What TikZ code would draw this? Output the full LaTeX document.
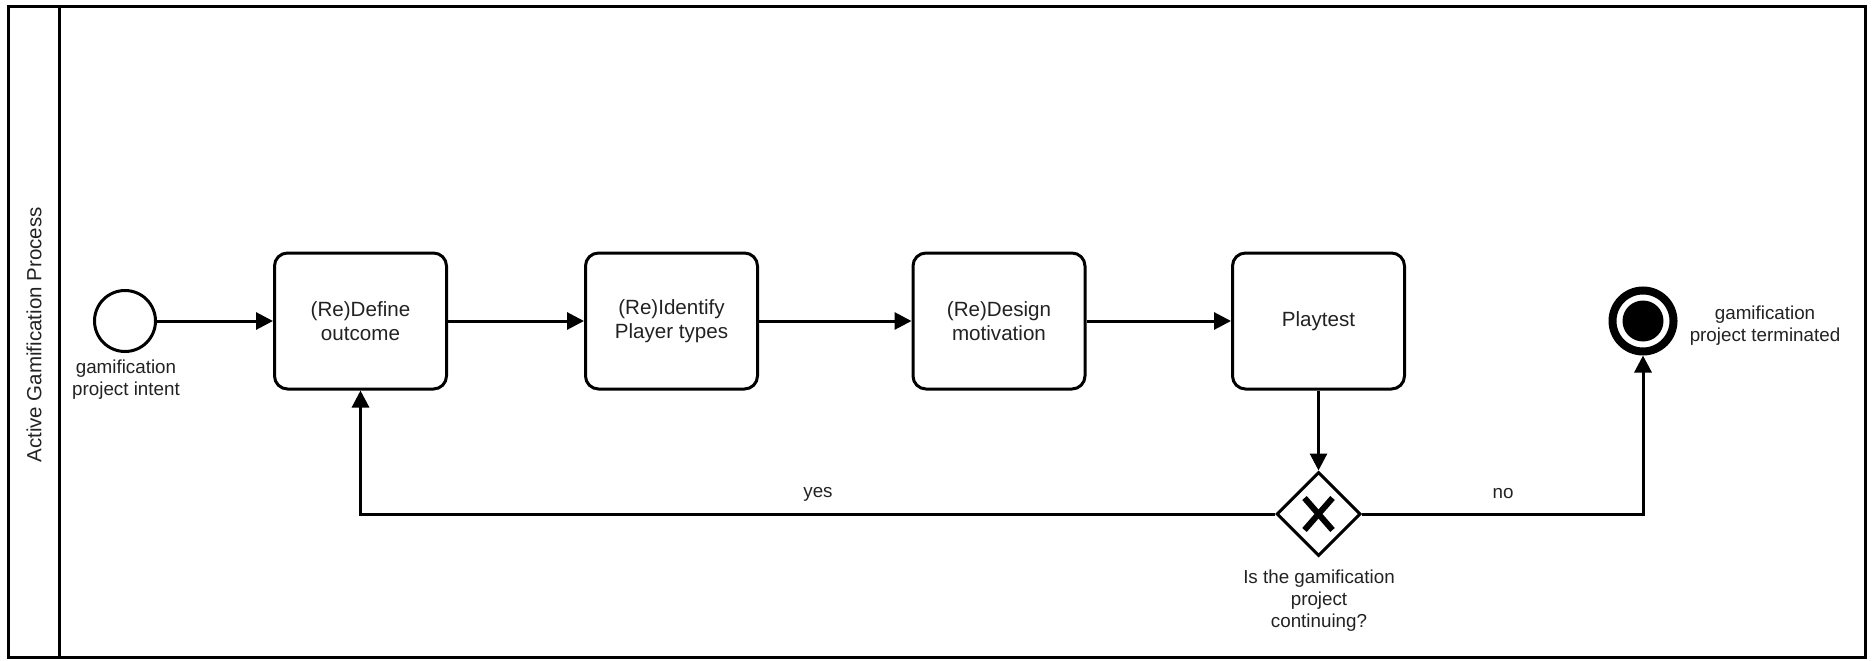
\documentclass[tikz,border=0pt]{standalone}
\usepackage{fontspec}
\setmainfont{Liberation Sans}
\usetikzlibrary{arrows.meta,shapes.geometric}
\definecolor{txt}{RGB}{34,34,34}
\tikzset{
  task/.style={draw, line width=3pt, rounded corners=13pt, minimum width=172pt, minimum height=136pt, inner sep=0pt, align=center, text=txt, font=\fontsize{20.6}{24}\selectfont},
  startev/.style={draw, circle, line width=3pt, minimum size=61pt, inner sep=0pt},
  endev/.style={draw, circle, line width=8pt, minimum size=61pt, inner sep=0pt},
  gateway/.style={draw, diamond, line width=3pt, minimum width=84pt, minimum height=84pt, inner sep=0pt},
  lbl/.style={align=center, text=txt, inner sep=0pt, font=\fontsize{18.8}{21.8}\selectfont},
  flow/.style={line width=3pt, -{Triangle[length=17pt,width=17pt]}},
  frame/.style={line width=3pt}
}
\begin{document}
\begin{tikzpicture}[x=1pt, y=-1pt]
\useasboundingbox (0,0) rectangle (1874,661);
% pool frame
\draw[frame] (8,7) rectangle (1865.5,657);
\draw[frame] (59,7) -- (59,657);
\node[lbl, rotate=90, font=\fontsize{20.5}{24}\selectfont] (title) at (34,335) {Active Gamification Process};
% nodes
\node[startev] (start) at (125,321) {};
\node[lbl] (startl) at (126,380) {gamification\\project intent};
\node[task] (def) at (360.5,321) {(Re)Define\\outcome};
\node[task] (ident) at (671.5,321) {(Re)Identify\\Player types};
\node[task] (des) at (999,321) {(Re)Design\\motivation};
\node[task] (play) at (1318.5,321) {Playtest};
\node[gateway] (gw) at (1318.5,514) {};
\draw[line width=6pt] ([shift={(-14,-16)}]gw.center) -- ([shift={(14,16)}]gw.center);
\draw[line width=6pt] ([shift={(14,-16)}]gw.center) -- ([shift={(-14,16)}]gw.center);
\node[lbl] (gwl) at (1319,600.5) {Is the gamification\\project\\continuing?};
\node[endev] (end) at (1643,321) {};
\fill (end.center) circle (20.5pt);
\node[lbl] (endl) at (1765,326) {gamification\\project terminated};
% flows
\draw[flow] (start) -- (def);
\draw[flow] (def) -- (ident);
\draw[flow] (ident) -- (des);
\draw[flow] (des) -- (play);
\draw[flow] (play) -- (gw);
\draw[flow] (gw.west) -| (def.south);
\draw[flow] (gw.east) -| (end.south);
\node[lbl] (yes) at (818,494) {yes};
\node[lbl] (no) at (1503,494) {no};
\end{tikzpicture}
\end{document}
